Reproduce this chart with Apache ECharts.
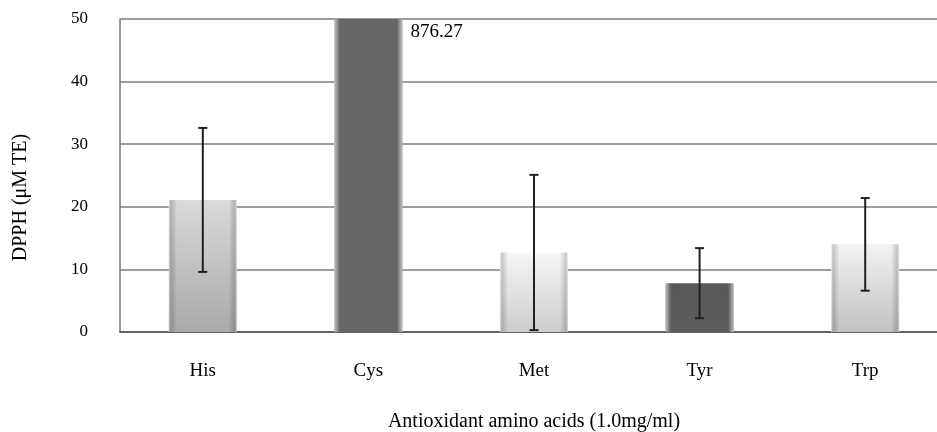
<!DOCTYPE html>
<html>
<head>
<meta charset="utf-8">
<script src="https://cdn.jsdelivr.net/npm/echarts@6/dist/echarts.min.js"></script>
<style>html,body{margin:0;padding:0;background:#fff}#c{width:937px;height:432px}</style>
</head>
<body>
<div id="c"></div>
<script>
var categories = ['His', 'Cys', 'Met', 'Tyr', 'Trp'];
var means = [21.1, 876.27, 12.7, 7.8, 14.0];
var sds = [11.5, null, 12.4, 5.6, 7.4];
var yTicks = [0, 10, 20, 30, 40, 50];
var labelValue = '876.27';

var FONT = '"Liberation Serif", "Times New Roman", serif';
var topColors = ['#dadadc', '#666666', '#f6f6f6', '#585858', '#f2f2f2'];
var bottomColors = ['#a9a9ab', '#666666', '#cdcdcf', '#5c5c5c', '#c2c2c4'];
var dark = [false, true, false, true, false];

function vgrad(i) {
  return new echarts.graphic.LinearGradient(0, 0, 0, 1, [
    {offset: 0, color: topColors[i]},
    {offset: 1, color: bottomColors[i]}
  ]);
}
function hgrad(i) {
  var e = dark[i] ? 'rgba(255,255,255,0.3)' : 'rgba(0,0,0,0.16)';
  var o = dark[i] ? 'rgba(255,255,255,0.6)' : 'rgba(255,255,255,0.45)';
  return new echarts.graphic.LinearGradient(0, 0, 1, 0, [
    {offset: 0, color: o},
    {offset: 0.04, color: e},
    {offset: 0.12, color: 'rgba(0,0,0,0)'},
    {offset: 0.88, color: 'rgba(0,0,0,0)'},
    {offset: 0.96, color: e},
    {offset: 1, color: o}
  ]);
}

var chart = echarts.init(document.getElementById('c'), null, {renderer: 'canvas'});
chart.setOption({
  animation: false,
  backgroundColor: '#ffffff',
  textStyle: {fontFamily: FONT},
  grid: {left: 120, top: 19, width: 828, height: 313, containLabel: false, outerBoundsMode: 'none'},
  xAxis: {
    type: 'category',
    data: categories,
    name: 'Antioxidant amino acids (1.0mg/ml)',
    nameLocation: 'middle',
    nameGap: 80,
    nameTextStyle: {fontFamily: FONT, fontSize: 20, color: '#000'},
    axisLine: {lineStyle: {color: '#505050', width: 1.5}},
    axisTick: {inside: true, length: 10, lineStyle: {color: '#222', width: 1.5}},
    axisLabel: {fontFamily: FONT, fontSize: 19, color: '#000', margin: 30}
  },
  yAxis: {
    type: 'value',
    min: yTicks[0],
    max: yTicks[yTicks.length - 1],
    interval: yTicks[1] - yTicks[0],
    name: 'DPPH (μM TE)',
    nameLocation: 'middle',
    nameRotate: 90,
    nameGap: 89,
    nameTextStyle: {fontFamily: FONT, fontSize: 20, color: '#000', padding: [0, 44, 0, 0]},
    axisLine: {show: true, lineStyle: {color: '#777', width: 1.5}},
    axisTick: {show: false},
    axisLabel: {fontFamily: FONT, fontSize: 17, color: '#000', margin: 32},
    splitLine: {lineStyle: {color: '#7c7c7c', width: 1.5}}
  },
  series: [
    {
      type: 'bar',
      barWidth: 68,
      data: means.map(function (v, i) {
        return {
          value: v,
          itemStyle: {color: vgrad(i)},
          label: i === 1 ? {
            show: true, position: [76, 4], formatter: labelValue,
            fontFamily: FONT, fontSize: 19, color: '#000'
          } : {show: false}
        };
      }),
      z: 2
    },
    {
      type: 'bar',
      barWidth: 68,
      barGap: '-100%',
      silent: true,
      data: means.map(function (v, i) {
        return {value: v, itemStyle: {color: hgrad(i)}};
      }),
      z: 3
    },
    {
      type: 'custom',
      z: 10,
      data: means.map(function (v, i) { return [i, v, sds[i]]; }),
      renderItem: function (params, api) {
        var sd = api.value(2);
        if (sd == null || isNaN(sd)) return null;
        var x = api.value(0), m = api.value(1);
        var hi = api.coord([x, m + sd]);
        var lo = api.coord([x, m - sd]);
        var w = 4.5;
        var st = {stroke: '#231f20', lineWidth: 2};
        return {
          type: 'group',
          children: [
            {type: 'line', shape: {x1: hi[0], y1: hi[1], x2: lo[0], y2: lo[1]}, style: st},
            {type: 'line', shape: {x1: hi[0] - w, y1: hi[1], x2: hi[0] + w, y2: hi[1]}, style: st},
            {type: 'line', shape: {x1: lo[0] - w, y1: lo[1], x2: lo[0] + w, y2: lo[1]}, style: st}
          ]
        };
      }
    }
  ]
});
</script>
</body>
</html>
